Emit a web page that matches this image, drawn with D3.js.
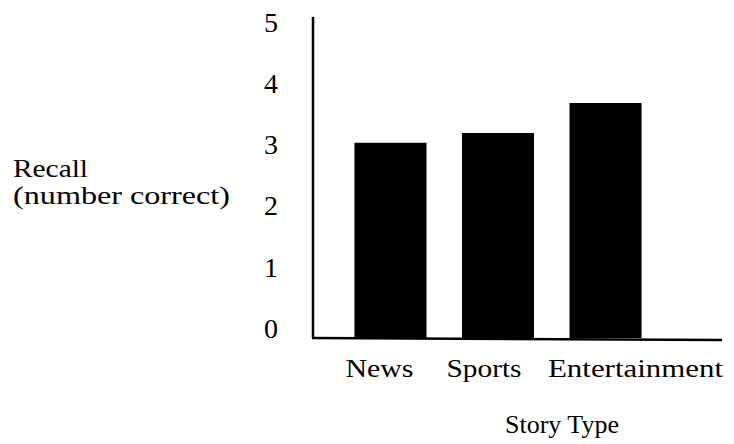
<!DOCTYPE html>
<html>
<head>
<meta charset="utf-8">
<script src="https://cdn.jsdelivr.net/npm/d3@7"></script>
<style>
  body { margin: 0; background: #fff; }
  svg { display: block; font-family: "Liberation Serif", "Times New Roman", serif; }
</style>
</head>
<body>
<div id="chart"></div>
<script>
const categories = ["News", "Sports", "Entertainment"];
const recall = [3.19, 3.35, 3.84];
const yTicks = [0, 1, 2, 3, 4, 5];

const width = 734;
const height = 444;

const x = d3.scaleBand()
  .domain(categories)
  .range([319, 677])
  .paddingInner(0.33)
  .paddingOuter(0.33);

const y = d3.scaleLinear()
  .domain([0, 5])
  .range([338, 32]);

// the scanned labels sit a little off the bar centres, and run wide
const labelNudge = { News: -11, Sports: -14, Entertainment: 30 };
const labelWidth = { News: 68, Sports: 75, Entertainment: 175 };

const svg = d3.select("#chart")
  .append("svg")
    .attr("width", width)
    .attr("height", height)
    .attr("viewBox", [0, 0, width, height]);

svg.append("g")
  .selectAll("rect")
  .data(categories)
  .join("rect")
    .attr("x", d => x(d))
    .attr("y", (d, i) => y(recall[i]))
    .attr("width", x.bandwidth())
    .attr("height", (d, i) => y(0) - y(recall[i]))
    .attr("fill", "#000");

// axes lines
svg.append("line")
  .attr("x1", 313).attr("x2", 313)
  .attr("y1", y(0)).attr("y2", y(5) - 15)
  .attr("stroke", "#000")
  .attr("stroke-width", 2.5);

svg.append("line")
  .attr("x1", 312).attr("x2", 722)
  .attr("y1", y(0)).attr("y2", y(0) + 2)
  .attr("stroke", "#000")
  .attr("stroke-width", 2.5);

svg.append("g")
  .attr("font-size", 28)
  .attr("text-anchor", "middle")
  .selectAll("text")
  .data(yTicks)
  .join("text")
    .attr("x", 271)
    .attr("y", d => y(d) - 10)
    .attr("dy", "0.35em")
    .text(d => d);

svg.append("g")
  .attr("font-size", 26)
  .attr("text-anchor", "middle")
  .selectAll("text")
  .data(categories)
  .join("text")
    .attr("x", d => x(d) + x.bandwidth() / 2 + labelNudge[d])
    .attr("y", 377)
    .attr("textLength", d => labelWidth[d])
    .attr("lengthAdjust", "spacingAndGlyphs")
    .text(d => d);

svg.append("text")
  .attr("x", 562)
  .attr("y", 433)
  .attr("font-size", 26)
  .attr("text-anchor", "middle")
  .text("Story Type");

svg.append("text")
  .attr("x", 13).attr("y", 177)
  .attr("font-size", 26)
  .attr("textLength", 75)
  .attr("lengthAdjust", "spacingAndGlyphs")
  .text("Recall");

svg.append("text")
  .attr("x", 13).attr("y", 204)
  .attr("font-size", 26)
  .attr("textLength", 217)
  .attr("lengthAdjust", "spacingAndGlyphs")
  .text("(number correct)");
</script>
</body>
</html>
